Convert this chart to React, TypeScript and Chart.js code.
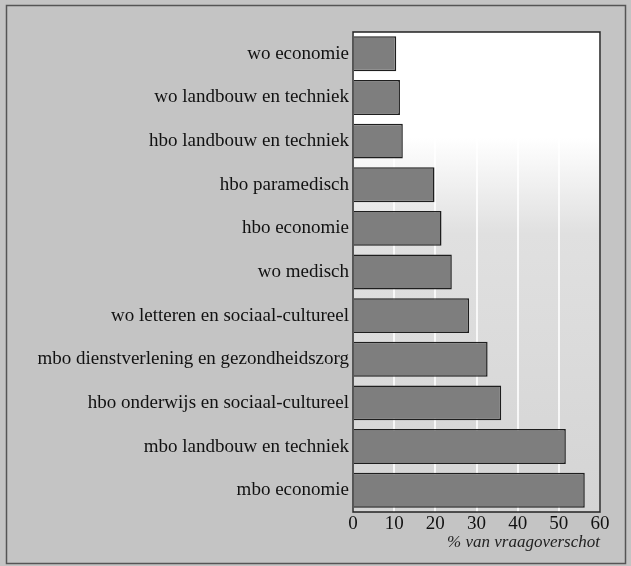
import React, { useEffect, useRef } from "react";
import { Chart, registerables } from "chart.js";

Chart.register(...registerables);

const categories = [
  "wo economie",
  "wo landbouw en techniek",
  "hbo landbouw en techniek",
  "hbo paramedisch",
  "hbo economie",
  "wo medisch",
  "wo letteren en sociaal-cultureel",
  "mbo dienstverlening en gezondheidszorg",
  "hbo onderwijs en sociaal-cultureel",
  "mbo landbouw en techniek",
  "mbo economie",
];
const values = [10.5, 11.4, 12.1, 19.8, 21.5, 24, 28.2, 32.7, 36, 51.7, 56.3];
const xTicks = [0, 10, 20, 30, 40, 50, 60];
const axisTitle = "% van vraagoverschot";

const SERIF = "'Liberation Serif', 'DejaVu Serif', serif";

const backdrop = {
  id: "backdrop",
  beforeDraw(chart: any) {
    const { ctx, width, height, chartArea } = chart;
    ctx.save();
    ctx.fillStyle = "#c4c4c4";
    ctx.fillRect(0, 0, width, height);
    ctx.strokeStyle = "#555";
    ctx.lineWidth = 1.5;
    ctx.strokeRect(6.5, 5.5, width - 12, height - 8);
    const g = ctx.createLinearGradient(0, chartArea.top, 0, chartArea.bottom);
    g.addColorStop(0, "#ffffff");
    g.addColorStop(0.22, "#ffffff");
    g.addColorStop(0.42, "#e0e0e0");
    g.addColorStop(1, "#d4d4d4");
    ctx.fillStyle = g;
    ctx.fillRect(chartArea.left, chartArea.top, chartArea.right - chartArea.left, chartArea.bottom - chartArea.top);
    ctx.restore();
  },
  afterDatasetsDraw(chart: any) {
    const { ctx, chartArea } = chart;
    ctx.save();
    ctx.strokeStyle = "#222";
    ctx.lineWidth = 1.5;
    ctx.strokeRect(chartArea.left, chartArea.top, chartArea.right - chartArea.left, chartArea.bottom - chartArea.top);
    ctx.restore();
  },
};

export default function App() {
  const ref = useRef<HTMLCanvasElement>(null);
  useEffect(() => {
    if (!ref.current) return;
    const chart = new Chart(ref.current, {
      type: "bar",
      data: {
        labels: categories,
        datasets: [
          {
            data: values,
            backgroundColor: "#7e7e7e",
            borderColor: "#1e1e1e",
            borderWidth: 1.5,
            barPercentage: 0.8,
            categoryPercentage: 1,
          },
        ],
      },
      options: {
        indexAxis: "y",
        animation: false,
        responsive: false,
        devicePixelRatio: 1,
        layout: { padding: { left: 0, right: 31, top: 32, bottom: 13 } },
        plugins: { legend: { display: false }, tooltip: { enabled: false } },
        scales: {
          x: {
            min: 0,
            max: 60,
            afterBuildTicks(scale: any) {
              scale.ticks = xTicks.map((v) => ({ value: v }));
            },
            afterFit(scale: any) {
              scale.height = 41;
            },
            grid: { color: "rgba(255,255,255,0.8)", lineWidth: 2, drawTicks: false },
            border: { display: false },
            ticks: {
              color: "#111",
              font: { family: SERIF, size: 19 },
              padding: 1,
            },
            title: {
              display: true,
              text: axisTitle,
              align: "end",
              color: "#222",
              font: { family: SERIF, size: 17, style: "italic" },
              padding: { top: 0, bottom: 0 },
            },
          },
          y: {
            afterFit(scale: any) {
              scale.width = 353;
            },
            grid: { display: false, drawTicks: false },
            border: { display: false },
            ticks: {
              color: "#111",
              font: { family: SERIF, size: 19 },
              padding: 4,
            },
          },
        },
      },
      plugins: [backdrop],
    });
    return () => chart.destroy();
  }, []);
  return (
    <div style={{ position: "fixed", left: 0, top: 0, width: 631, height: 566 }}>
      <canvas ref={ref} width={631} height={566} style={{ display: "block" }} />
    </div>
  );
}
